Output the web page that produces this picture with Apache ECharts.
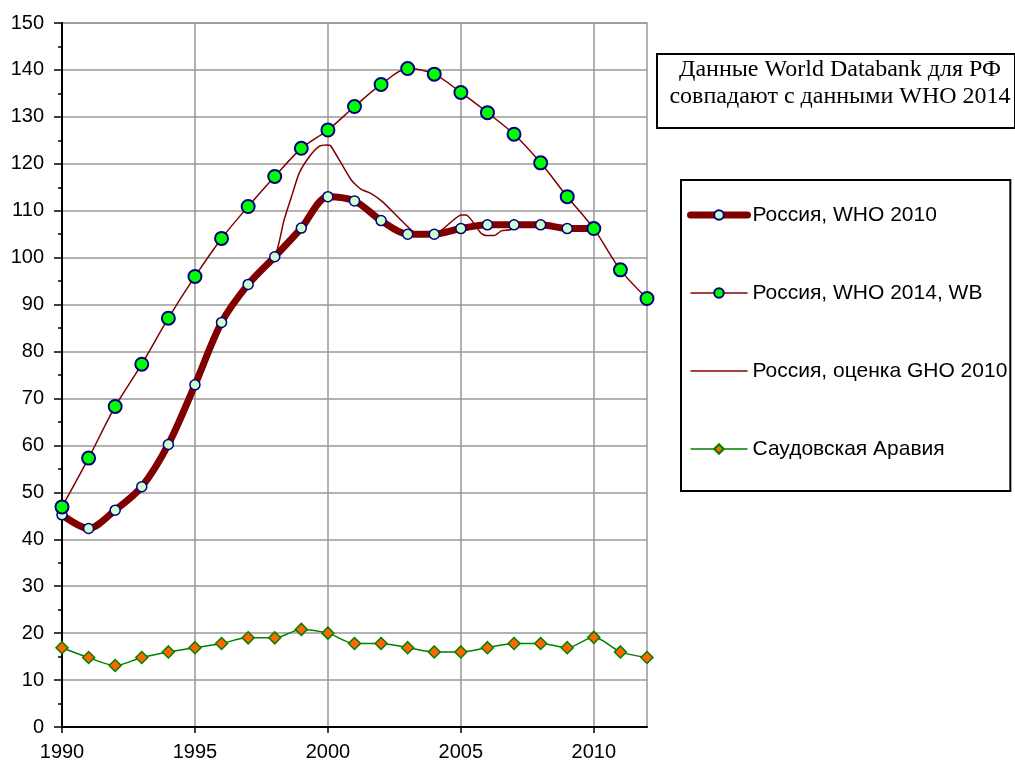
<!DOCTYPE html>
<html>
<head>
<meta charset="utf-8">
<script src="https://cdn.jsdelivr.net/npm/echarts@6/dist/echarts.min.js"></script>
<style>
  html, body { margin: 0; padding: 0; background: #fff; }
  #chart { width: 1015px; height: 763px; }
</style>
</head>
<body>
<div id="chart"></div>
<script>
var years = [1990, 1991, 1992, 1993, 1994, 1995, 1996, 1997, 1998, 1999, 2000, 2001,
             2002, 2003, 2004, 2005, 2006, 2007, 2008, 2009, 2010, 2011, 2012];
var yearTicks = [1990, 1995, 2000, 2005, 2010];

// Россия, WHO 2010 (до 2010)
var who2010 = [45.2, 42.3, 46.2, 51.2, 60.2, 72.9, 86.2, 94.3, 100.2, 106.3, 113.0,
               112.1, 107.9, 105.0, 105.0, 106.2, 107.0, 107.0, 107.0, 106.2, 106.2];

// Россия, WHO 2014, WB
var who2014 = [46.9, 57.3, 68.3, 77.3, 87.1, 96.0, 104.1, 110.9, 117.3, 123.3, 127.2,
               132.2, 136.9, 140.3, 139.1, 135.2, 130.9, 126.3, 120.2, 113.0, 106.2, 97.4, 91.3];

// Россия, оценка GHO 2010 (годы с дробной частью, точки перегиба)
var ghoYears = [1990, 1991, 1992, 1993, 1994, 1995, 1996, 1997, 1998, 1998.35, 1998.67,
                1998.92, 1999.3, 1999.67, 1999.96, 2000.11, 2000.87, 2001.24, 2001.61,
                2002.06, 2002.75, 2003.44, 2004.13, 2004.57, 2005.01, 2005.2, 2005.76,
                2005.95, 2006.26, 2006.52, 2006.89, 2007, 2008, 2009, 2010];
var ghoValues = [45.2, 42.3, 46.2, 51.2, 60.2, 72.9, 86.2, 94.3, 100.2, 108.0, 113.7,
                 118.0, 121.5, 123.7, 124.0, 123.8, 116.6, 114.6, 113.7,
                 111.9, 108.0, 104.8, 105.2, 107.3, 109.1, 109.1, 105.2,
                 104.7, 104.7, 105.7, 106.0, 107.0, 107.0, 106.2, 106.2];

// Саудовская Аравия
var saudi = [16.9, 14.8, 13.1, 14.8, 16.0, 16.9, 17.8, 19.0, 19.0, 20.8, 20.0, 17.8,
             17.8, 16.9, 16.0, 16.0, 16.9, 17.8, 17.8, 16.9, 19.1, 16.0, 14.8];

var seriesNames = ['Россия, WHO 2010', 'Россия, WHO 2014, WB', 'Россия, оценка GHO 2010', 'Саудовская Аравия'];
var noteLines = ['Данные World Databank для РФ', 'совпадают с данными WHO 2014'];

function pairs(xs, ys) {
    var out = [];
    for (var i = 0; i < ys.length; i++) out.push([xs[i], ys[i]]);
    return out;
}

var chart = echarts.init(document.getElementById('chart'));
var sans = 'Liberation Sans, Arial, sans-serif';

var option = {
    backgroundColor: '#fff',
    animation: false,
    grid: {
        left: 62, right: 368, top: 23, bottom: 36,
        show: true, borderColor: '#999', borderWidth: 1.5
    },
    xAxis: {
        type: 'value', min: 1990, max: 2012, interval: 5,
        axisLine: { lineStyle: { color: '#000', width: 2 } },
        axisTick: { length: 6, customValues: yearTicks, lineStyle: { color: '#000', width: 1.5 } },
        axisLabel: {
            color: '#000', fontSize: 20, fontFamily: sans, margin: 15,
            customValues: yearTicks,
            formatter: function (v) { return String(v); }
        },
        splitLine: { show: true, lineStyle: { color: '#999', width: 1.5 } }
    },
    yAxis: {
        type: 'value', min: 0, max: 150, interval: 10,
        axisLine: { show: true, lineStyle: { color: '#000', width: 2 } },
        axisTick: { show: true, length: 8, lineStyle: { color: '#000', width: 1.5 } },
        minorTick: { show: true, splitNumber: 2, length: 4, lineStyle: { color: '#000', width: 1.5 } },
        axisLabel: { color: '#000', fontSize: 20, fontFamily: sans, margin: 18 },
        splitLine: { show: true, lineStyle: { color: '#999', width: 1.5 } }
    },
    legend: {
        orient: 'vertical', left: 681, top: 180,
        padding: [24, 3, 31, 6],
        itemGap: 56, itemWidth: 57, itemHeight: 12,
        borderColor: '#000', borderWidth: 2,
        textStyle: { color: '#000', fontSize: 21, fontFamily: sans, lineHeight: 22 },
        data: [
            { name: seriesNames[0], lineStyle: { width: 7, cap: 'round' } },
            { name: seriesNames[1], lineStyle: { width: 1.5 } },
            { name: seriesNames[2], lineStyle: { width: 1.5 },
              itemStyle: { color: 'rgba(0,0,0,0)', borderColor: 'rgba(0,0,0,0)', borderWidth: 0 } },
            { name: seriesNames[3], lineStyle: { width: 1.5 } }
        ]
    },
    graphic: [
        {
            type: 'rect', left: 656, top: 53, z: 100,
            shape: { width: 358, height: 74 },
            style: { fill: '#fff', stroke: '#000', lineWidth: 2 }
        },
        {
            type: 'text', x: 840, y: 83, z: 101,
            style: {
                text: noteLines.join('\n'), fill: '#000',
                font: '24px "Liberation Serif", "Times New Roman", serif',
                lineHeight: 27, align: 'center', verticalAlign: 'middle'
            }
        }
    ],
    series: [
        {
            name: seriesNames[0], type: 'line', smooth: 0.3,
            data: pairs(years, who2010),
            symbol: 'circle', symbolSize: 10,
            lineStyle: { color: '#800000', width: 7 },
            itemStyle: { color: '#ccffcc', borderColor: '#000080', borderWidth: 1.5 }
        },
        {
            name: seriesNames[1], type: 'line', smooth: 0.3,
            data: pairs(years, who2014),
            symbol: 'circle', symbolSize: 13,
            lineStyle: { color: '#800000', width: 1.5 },
            itemStyle: { color: '#00ff00', borderColor: '#000080', borderWidth: 2 }
        },
        {
            name: seriesNames[2], type: 'line', smooth: 0.2,
            data: pairs(ghoYears, ghoValues),
            symbol: 'none',
            lineStyle: { color: '#800000', width: 1.5 },
            itemStyle: { color: '#800000' }
        },
        {
            name: seriesNames[3], type: 'line', smooth: 0.3,
            data: pairs(years, saudi),
            symbol: 'diamond', symbolSize: 12,
            lineStyle: { color: '#008000', width: 1.5 },
            itemStyle: { color: '#ff6600', borderColor: '#008000', borderWidth: 1.5 }
        }
    ]
};

chart.setOption(option);
</script>
</body>
</html>
